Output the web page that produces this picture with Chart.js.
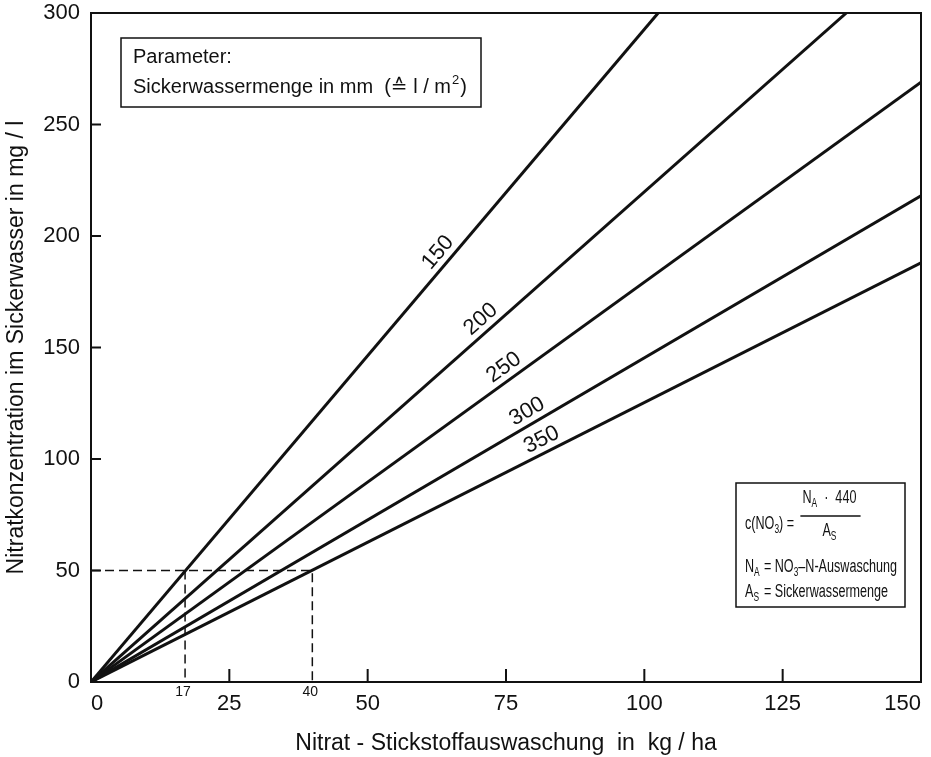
<!DOCTYPE html>
<html>
<head>
<meta charset="utf-8">
<script src="https://cdn.jsdelivr.net/npm/chart.js@4.4.1/dist/chart.umd.min.js"></script>
<style>
  html, body { margin: 0; padding: 0; background: #fff; }
  #wrap { width: 931px; height: 757px; }
</style>
</head>
<body>
<div id="wrap"><canvas id="chart"></canvas></div>
<script>
// Parameter: Sickerwassermenge in mm, one line each
var seepage = ["150", "200", "250", "300", "350"];
// every line starts in 0/0, end points
var lineEndX = [102.5, 136.5, 150, 150, 150];
var lineEndY = [300, 300, 269, 218, 188];
// x value along each line where its label sits
var labelAtX = [64.5, 72, 76, 80, 82.5];

// dashed reading help for 50 mg/l
var dashX = [0, 40, 40];
var dashY = [50, 50, 0];
var dash17X = [17, 17];
var dash17Y = [50, 0];
var markLabels = ["17", "40"];
var markAt = [17, 40];

// axis ticks
var xTicks = [0, 25, 50, 75, 100, 125, 150];
var yTicks = [0, 50, 100, 150, 200, 250, 300];

var FONT = '"Liberation Sans", Arial, "DejaVu Sans", sans-serif';
var INK = "#111";

var datasets = [];
seepage.forEach(function (name, i) {
  datasets.push({
    label: name,
    data: [{ x: 0, y: 0 }, { x: lineEndX[i], y: lineEndY[i] }],
    borderColor: INK,
    borderWidth: 3,
    showLine: true,
    pointRadius: 0,
    tension: 0
  });
});
datasets.push({
  label: "dash50",
  data: dashX.map(function (v, i) { return { x: v, y: dashY[i] }; }),
  borderColor: INK, borderWidth: 1.5, borderDash: [9, 5],
  showLine: true, pointRadius: 0
});
datasets.push({
  label: "dash17",
  data: dash17X.map(function (v, i) { return { x: v, y: dash17Y[i] }; }),
  borderColor: INK, borderWidth: 1.5, borderDash: [9, 5],
  showLine: true, pointRadius: 0
});

// frame, inward ticks, line labels, small marks and the two boxes
var decor = {
  id: "decor",
  afterDatasetsDraw: function (chart) {
    var ctx = chart.ctx;
    var a = chart.chartArea;
    var xs = chart.scales.x, ys = chart.scales.y;
    ctx.save();
    ctx.strokeStyle = INK;
    ctx.fillStyle = INK;

    // frame
    ctx.lineWidth = 2;
    ctx.strokeRect(a.left, a.top, a.right - a.left, a.bottom - a.top);

    // inward ticks
    ctx.beginPath();
    yTicks.forEach(function (v) {
      if (v === 0 || v === 300) return;
      var py = ys.getPixelForValue(v);
      ctx.moveTo(a.left, py); ctx.lineTo(a.left + 10, py);
    });
    xTicks.forEach(function (v) {
      if (v === 0 || v === 150) return;
      var px = xs.getPixelForValue(v);
      ctx.moveTo(px, a.bottom); ctx.lineTo(px, a.bottom - 13);
    });
    ctx.stroke();

    // labels along the lines
    ctx.font = "22px " + FONT;
    ctx.textAlign = "center";
    ctx.textBaseline = "middle";
    seepage.forEach(function (name, i) {
      var x0 = xs.getPixelForValue(0), y0 = ys.getPixelForValue(0);
      var x1 = xs.getPixelForValue(lineEndX[i]), y1 = ys.getPixelForValue(lineEndY[i]);
      var px = xs.getPixelForValue(labelAtX[i]);
      var t = (px - x0) / (x1 - x0);
      var py = y0 + t * (y1 - y0);
      var ang = Math.atan2(y1 - y0, x1 - x0);
      ctx.save();
      ctx.translate(px, py);
      ctx.rotate(ang);
      ctx.fillText(name, 0, -13);
      ctx.restore();
    });

    // 17 and 40 under the axis
    ctx.font = "14px " + FONT;
    ctx.textBaseline = "top";
    markLabels.forEach(function (m, i) {
      ctx.fillText(m, xs.getPixelForValue(markAt[i]) - 2, a.bottom + 3);
    });

    // parameter box
    ctx.lineWidth = 1.5;
    ctx.strokeRect(a.left + 30, a.top + 25, 360, 69);
    ctx.textAlign = "left";
    ctx.textBaseline = "middle";
    ctx.font = "20px " + FONT;
    ctx.fillText("Parameter:", a.left + 42, a.top + 44);
    var tx = a.left + 42, ty = a.top + 74;
    var s1 = "Sickerwassermenge in mm  (\u2259 l / m";
    ctx.fillText(s1, tx, ty);
    var w1 = ctx.measureText(s1).width;
    ctx.font = "13px " + FONT;
    ctx.fillText("2", tx + w1 + 1, ty - 7);
    var w2 = ctx.measureText("2").width;
    ctx.font = "20px " + FONT;
    ctx.fillText(")", tx + w1 + w2 + 2, ty);

    // formula box
    var bx = a.right - 185, by = 483;
    ctx.lineWidth = 1.5;
    ctx.strokeRect(bx, by, 169, 124);

    // natural width of the widest row, to squeeze the text into the box
    ctx.font = "18px " + FONT;
    var row2 = 27 + ctx.measureText("= NO").width + ctx.measureText("\u2013N-Auswaschung").width;
    ctx.font = "12px " + FONT;
    row2 += ctx.measureText("3").width;
    var k = Math.min(1, 152 / row2);

    ctx.save();
    ctx.translate(bx + 9, by);
    ctx.scale(k, 1);
    var x = 0, y = 41;
    function txt(s, size, dy) {
      ctx.font = size + "px " + FONT;
      ctx.fillText(s, x, y + (dy || 0));
      x += ctx.measureText(s).width;
    }
    txt("c(NO", 18); txt("3", 12, 6); txt(") =", 18);
    var fx = x + 12;
    x = fx; y = 15;
    txt("N", 18); txt("A", 12, 6); txt("  \u00b7  440", 18);
    var fw = x - fx;
    ctx.lineWidth = 1.5;
    ctx.beginPath();
    ctx.moveTo(fx - 3, 33); ctx.lineTo(fx + fw + 6, 33);
    ctx.stroke();
    x = fx + fw / 2 - 10; y = 48;
    txt("A", 18); txt("S", 12, 6);
    x = 0; y = 84;
    txt("N", 18); txt("A", 12, 6);
    x = 27; txt("= NO", 18); txt("3", 12, 6); txt("\u2013N-Auswaschung", 18);
    x = 0; y = 109;
    txt("A", 18); txt("S", 12, 6);
    x = 27; txt("= Sickerwassermenge", 18);
    ctx.restore();

    ctx.restore();
  }
};

new Chart(document.getElementById("chart"), {
  type: "scatter",
  data: { datasets: datasets },
  options: {
    responsive: true,
    maintainAspectRatio: false,
    animation: false,
    layout: { padding: { left: 0, right: 10, top: 13, bottom: 0 } },
    plugins: { legend: { display: false }, tooltip: { enabled: false } },
    scales: {
      x: {
        type: "linear", min: 0, max: 150,
        afterBuildTicks: function (s) { s.ticks = xTicks.map(function (v) { return { value: v }; }); },
        afterFit: function (s) { s.height = 75; s.paddingLeft = 0; s.paddingRight = 0; },
        grid: { display: false, drawTicks: false },
        border: { display: false },
        ticks: { color: INK, padding: 9, align: "inner", maxRotation: 0, font: { family: FONT, size: 22 } },
        title: {
          display: true, text: "Nitrat - Stickstoffauswaschung  in  kg / ha",
          color: INK, font: { family: FONT, size: 23 }, padding: { top: 0, bottom: 0 }
        }
      },
      y: {
        type: "linear", min: 0, max: 300,
        afterBuildTicks: function (s) { s.ticks = yTicks.map(function (v) { return { value: v }; }); },
        afterFit: function (s) { s.width = 91; s.paddingTop = 0; s.paddingBottom = 0; },
        grid: { display: false, drawTicks: false },
        border: { display: false },
        ticks: { color: INK, padding: 11, font: { family: FONT, size: 22 } },
        title: {
          display: true, text: "Nitratkonzentration im Sickerwasser in mg / l",
          color: INK, font: { family: FONT, size: 23 }, padding: { top: 3, bottom: 0 }
        }
      }
    }
  },
  plugins: [decor]
});
</script>
</body>
</html>
